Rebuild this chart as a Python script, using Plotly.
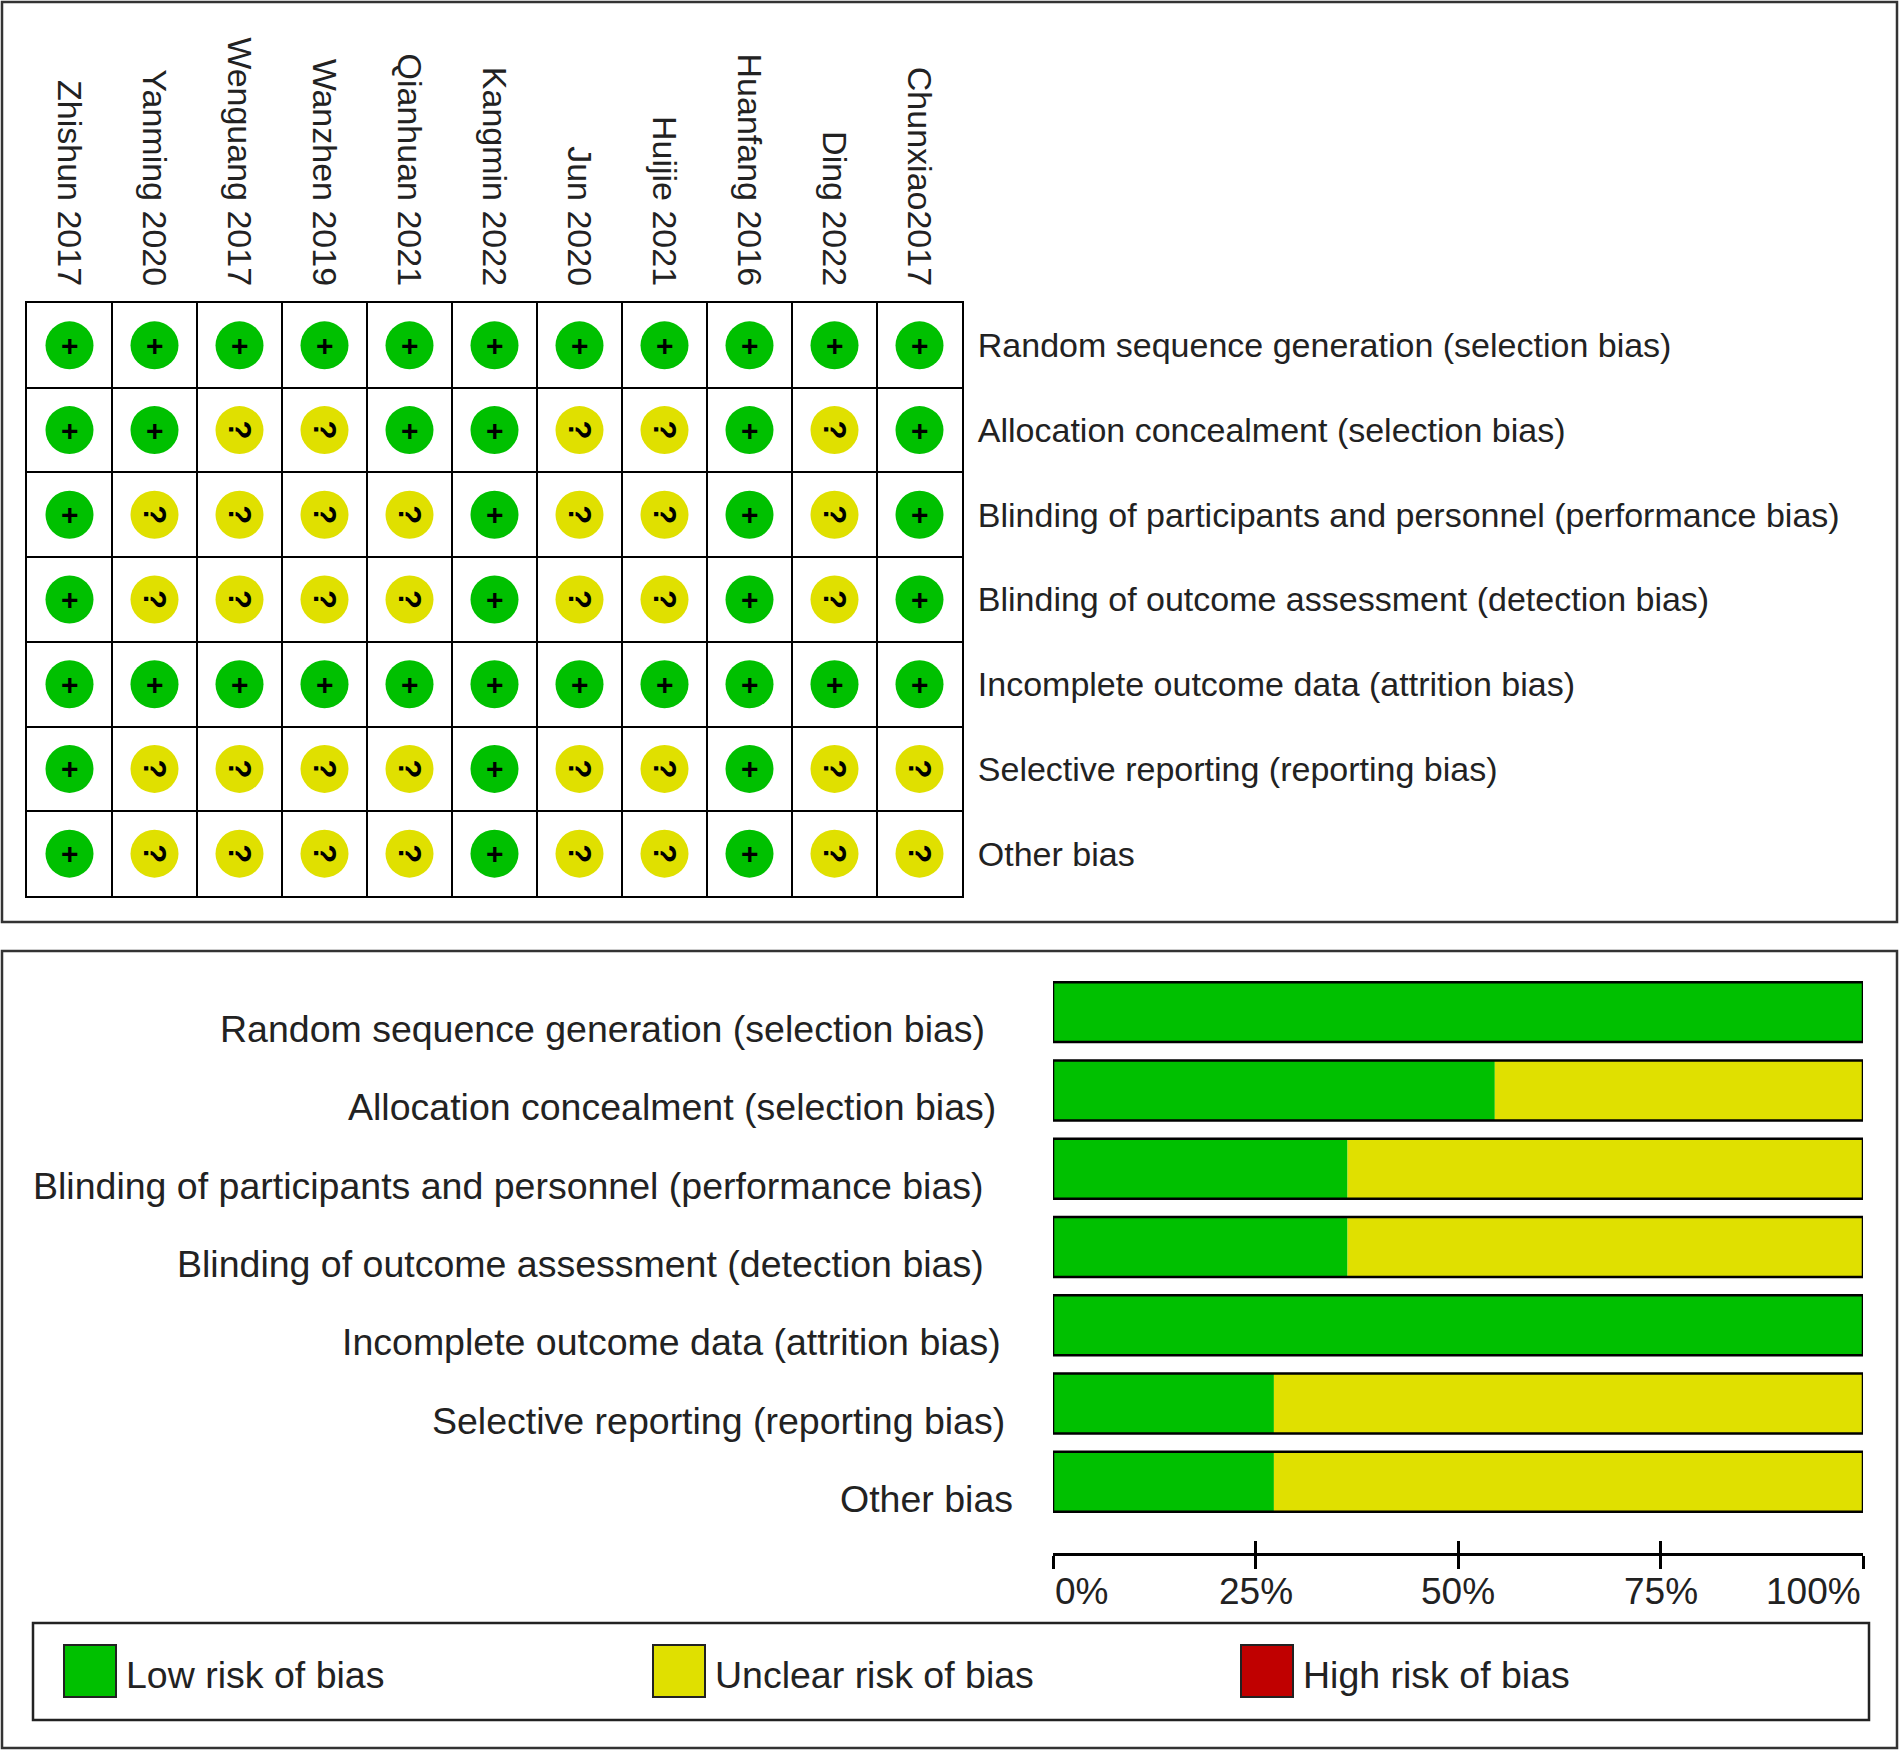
import plotly.graph_objects as go

# -------- d a t a -------- #

studies = ["Zhishun 2017", "Yanming 2020", "Wenguang 2017", "Wanzhen 2019",
           "Qianhuan 2021", "Kangmin 2022", "Jun 2020", "Huijie 2021",
           "Huanfang 2016", "Ding 2022", "Chunxiao2017"]

domains = ["Random sequence generation (selection bias)",
           "Allocation concealment (selection bias)",
           "Blinding of participants and personnel (performance bias)",
           "Blinding of outcome assessment (detection bias)",
           "Incomplete outcome data (attrition bias)",
           "Selective reporting (reporting bias)",
           "Other bias"]

# '+' low risk, '?' unclear risk, '-' high risk (one entry per study)
random_sequence = ["+", "+", "+", "+", "+", "+", "+", "+", "+", "+", "+"]
allocation = ["+", "+", "?", "?", "+", "+", "?", "?", "+", "?", "+"]
blinding_participants = ["+", "?", "?", "?", "?", "+", "?", "?", "+", "?", "+"]
blinding_outcome = ["+", "?", "?", "?", "?", "+", "?", "?", "+", "?", "+"]
incomplete_data = ["+", "+", "+", "+", "+", "+", "+", "+", "+", "+", "+"]
selective_reporting = ["+", "?", "?", "?", "?", "+", "?", "?", "+", "?", "?"]
other_bias = ["+", "?", "?", "?", "?", "+", "?", "?", "+", "?", "?"]

judgements = [random_sequence, allocation, blinding_participants,
              blinding_outcome, incomplete_data, selective_reporting, other_bias]

legend_labels = ["Low risk of bias", "Unclear risk of bias", "High risk of bias"]
pct_ticks = [0, 25, 50, 75, 100]
pct_tick_text = ["0%", "25%", "50%", "75%", "100%"]

# -------- s t y l e -------- #

W, H = 1902, 1754
GREEN = '#00c000'
YELLOW = '#e0e000'
RED = '#c00000'
TXT = '#222222'
FONT = 'Liberation Sans, Arial, sans-serif'
judgement_colour = {'+': GREEN, '?': YELLOW, '-': RED}


def px(x):
    return x / W


def py(y):
    return 1 - y / H


# percentages per domain, as in the summary graph
n = len(studies)
low_pct = [100 * row.count('+') / n for row in judgements]
unclear_pct = [100 * row.count('?') / n for row in judgements]
high_pct = [100 * row.count('-') / n for row in judgements]

fig = go.Figure()

# --- t o p : traffic light grid --- #
xs, ys, cols = [], [], []
annotations = []
for r, row in enumerate(judgements):
    for c, j in enumerate(row):
        xs.append(c)
        ys.append(r)
        cols.append(judgement_colour[j])
        annotations.append(dict(x=c, y=r, xref='x', yref='y', showarrow=False,
                                text='<b>%s</b>' % j,
                                textangle=0 if j == '+' else 90,
                                font=dict(size=30 if j == '+' else 31,
                                          color='black', family=FONT)))

fig.add_trace(go.Scatter(x=xs, y=ys, mode='markers', xaxis='x', yaxis='y',
                         marker=dict(size=48, color=cols, line=dict(width=0)),
                         hoverinfo='skip', showlegend=False))

# --- b o t t o m : summary bars --- #
rows = list(range(len(domains)))
fig.add_trace(go.Bar(y=rows, x=low_pct, base=0, orientation='h', width=0.766,
                     marker=dict(color=GREEN, line=dict(width=0)),
                     xaxis='x2', yaxis='y2', showlegend=False, hoverinfo='skip'))
fig.add_trace(go.Bar(y=rows, x=unclear_pct, base=low_pct, orientation='h', width=0.766,
                     marker=dict(color=YELLOW, line=dict(width=0)),
                     xaxis='x2', yaxis='y2', showlegend=False, hoverinfo='skip'))
fig.add_trace(go.Bar(y=rows, x=high_pct,
                     base=[a + b for a, b in zip(low_pct, unclear_pct)],
                     orientation='h', width=0.766,
                     marker=dict(color=RED, line=dict(width=0)),
                     xaxis='x2', yaxis='y2', showlegend=False, hoverinfo='skip'))
# outline round each whole bar
fig.add_trace(go.Bar(y=rows, x=[a + b + c for a, b, c in zip(low_pct, unclear_pct, high_pct)],
                     base=0, orientation='h', width=0.766,
                     marker=dict(color='rgba(0,0,0,0)', line=dict(width=2.5, color='black')),
                     xaxis='x2', yaxis='y2', showlegend=False, hoverinfo='skip'))
# invisible trace so the overlaid tick axis gets drawn
fig.add_trace(go.Scatter(x=[0], y=[0], mode='markers', marker=dict(opacity=0),
                         xaxis='x3', yaxis='y2', showlegend=False, hoverinfo='skip'))

# row labels of the bar chart (ragged right edges like the original)
label_right_px = [987, 998, 986, 986, 1003, 1007, 1015]
for i, d in enumerate(domains):
    annotations.append(dict(x=px(label_right_px[i]), y=i, xref='paper', yref='y2',
                            xanchor='right', yanchor='middle', yshift=-17,
                            showarrow=False, text=d,
                            font=dict(size=37.5, color=TXT, family=FONT)))

# percentage tick labels
anchors = ['left', 'center', 'center', 'center', 'right']
for v, t, a in zip(pct_ticks, pct_tick_text, anchors):
    annotations.append(dict(x=v, y=py(1591), xref='x2', yref='paper',
                            xanchor=a, yanchor='middle', showarrow=False, text=t,
                            font=dict(size=37, color=TXT, family=FONT)))

# --- l e g e n d --- #
shapes = [
    dict(type='rect', xref='paper', yref='paper', x0=px(2), x1=px(1897),
         y0=py(922), y1=py(2), line=dict(color='#333', width=2.5)),
    dict(type='rect', xref='paper', yref='paper', x0=px(2), x1=px(1897),
         y0=py(1748), y1=py(951), line=dict(color='#333', width=2.5)),
    dict(type='rect', xref='paper', yref='paper', x0=px(33), x1=px(1869),
         y0=py(1720), y1=py(1623), line=dict(color='#222', width=2.5)),
]
swatch_left = [64, 653, 1241]
for lab, colour, x0 in zip(legend_labels, [GREEN, YELLOW, RED], swatch_left):
    shapes.append(dict(type='rect', xref='paper', yref='paper',
                       x0=px(x0), x1=px(x0 + 52), y0=py(1697), y1=py(1645),
                       fillcolor=colour, line=dict(color='#222', width=2)))
    annotations.append(dict(x=px(x0 + 60), y=py(1675), xref='paper', yref='paper',
                            xanchor='left', yanchor='middle', showarrow=False,
                            text=lab, font=dict(size=37.5, color=TXT, family=FONT)))

fig.update_layout(
    width=W, height=H, autosize=False,
    margin=dict(l=0, r=0, t=0, b=0),
    paper_bgcolor='white', plot_bgcolor='white',
    barmode='overlay',
    font=dict(family=FONT, color=TXT),
    xaxis=dict(domain=[px(27), px(962)], range=[-0.5, 10.5], anchor='y',
               side='top', tickmode='array', tickvals=list(range(n)), ticktext=studies,
               tickangle=90, ticks='outside', ticklen=3, tickcolor='rgba(0,0,0,0)',
               tickfont=dict(size=34, color=TXT), showgrid=False, zeroline=False,
               showline=True, mirror=True, linecolor='black', linewidth=2,
               minor=dict(tick0=-0.5, dtick=1, showgrid=True, gridcolor='black',
                          gridwidth=2, ticks=''),
               fixedrange=True),
    yaxis=dict(domain=[py(896), py(303)], range=[6.5, -0.5], anchor='x',
               side='right', tickmode='array', tickvals=rows, ticktext=domains,
               ticks='outside', ticklen=7, tickcolor='rgba(0,0,0,0)',
               tickfont=dict(size=34, color=TXT), showgrid=False, zeroline=False,
               showline=True, mirror=True, linecolor='black', linewidth=2,
               minor=dict(tick0=-0.5, dtick=1, showgrid=True, gridcolor='black',
                          gridwidth=2, ticks=''),
               fixedrange=True),
    xaxis2=dict(domain=[px(1053), px(1863)], range=[0, 100], anchor='y2',
                tickmode='array', tickvals=pct_ticks, showticklabels=False,
                ticks='outside', ticklen=13, tickwidth=2.5, tickcolor='black',
                showline=True, linecolor='black', linewidth=2.5,
                showgrid=False, zeroline=False, fixedrange=True),
    xaxis3=dict(overlaying='x2', range=[0, 100], anchor='y2', side='bottom',
                tickmode='array', tickvals=pct_ticks, showticklabels=False,
                ticks='inside', ticklen=12, tickwidth=2.5, tickcolor='black',
                showline=False, showgrid=False, zeroline=False, fixedrange=True),
    yaxis2=dict(domain=[py(1553), py(973)], range=[6.91, -0.5], anchor='x2',
                visible=False, fixedrange=True),
    shapes=shapes,
    annotations=annotations,
)

fig.write_html("out.html", config={'displayModeBar': False},
               post_script="document.body.style.margin='0px';")
